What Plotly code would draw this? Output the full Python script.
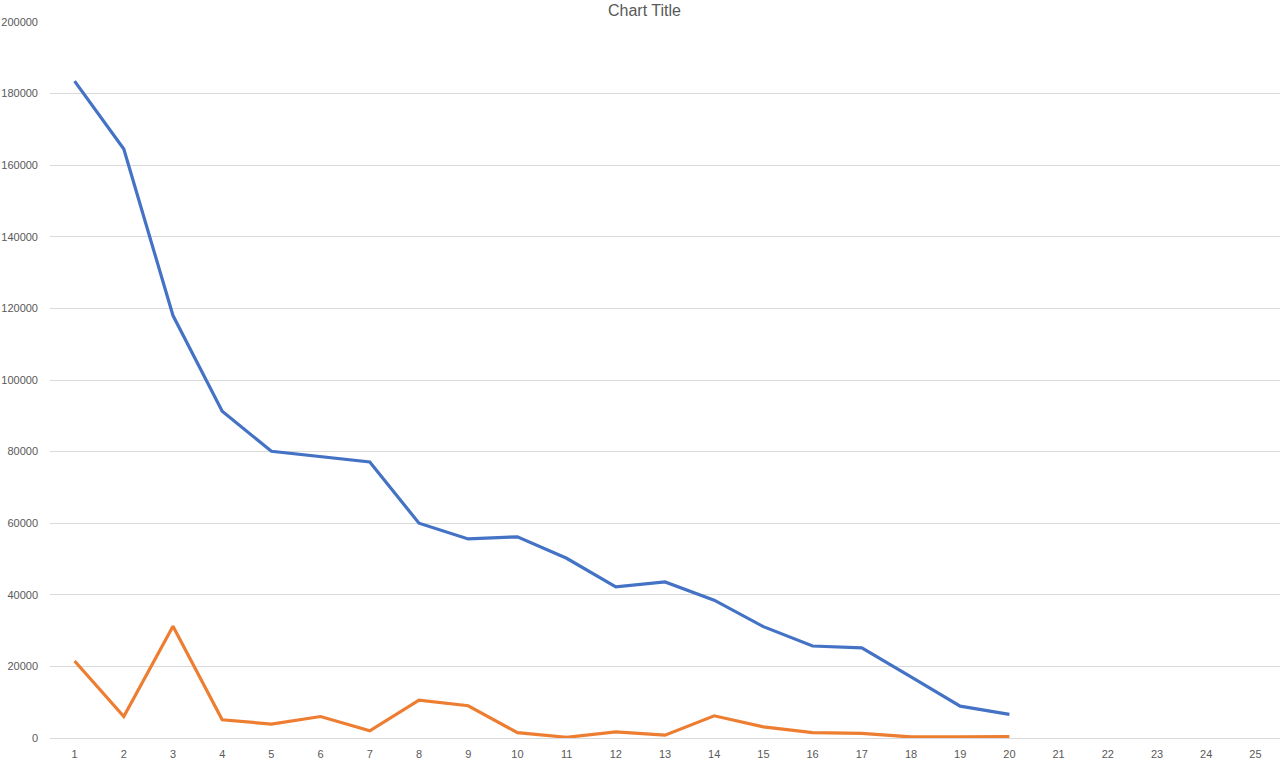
import plotly.graph_objects as go

# categories on the x axis (1..25), series only go up to 20
categories = [str(i) for i in range(1, 26)]
x_points = [str(i) for i in range(1, 21)]

series_blue = [183500, 164500, 118000, 91300, 80100, 78500, 77100, 60000, 55600, 56200,
               50200, 42200, 43600, 38500, 31100, 25700, 25200, 17100, 8900, 6600]
series_orange = [21500, 6000, 31200, 5100, 3900, 6000, 2000, 10600, 9000, 1500,
                 200, 1700, 800, 6200, 3100, 1500, 1300, 300, 300, 400]

y_ticks = [0, 20000, 40000, 60000, 80000, 100000, 120000, 140000, 160000, 180000, 200000]

fig = go.Figure()

fig.add_trace(go.Scatter(
    x=x_points, y=series_blue,
    mode="lines",
    line=dict(color="#4472C4", width=3.2),
    name="Series1",
))
fig.add_trace(go.Scatter(
    x=x_points, y=series_orange,
    mode="lines",
    line=dict(color="#ED7D31", width=3.2),
    name="Series2",
))

# title hugs the very top edge, just above the 200000 gridline
fig.add_annotation(
    text="Chart Title",
    xref="paper", yref="paper",
    x=0.4837, y=1,
    yanchor="middle",
    yshift=12,
    showarrow=False,
    font=dict(family="Liberation Sans, Arial, sans-serif", size=16, color="#595959"),
)

fig.update_layout(
    width=1280,
    height=782,
    autosize=False,
    showlegend=False,
    plot_bgcolor="white",
    paper_bgcolor="white",
    margin=dict(l=50, r=0, t=22, b=44),
    font=dict(family="Liberation Sans, Arial, sans-serif", size=11, color="#595959"),
    xaxis=dict(
        type="category",
        categoryorder="array",
        categoryarray=categories,
        range=[-0.5, 24.5],
        showgrid=False,
        showline=False,
        zeroline=False,
        ticks="",
        ticklabelstandoff=8,
    ),
    yaxis=dict(
        range=[0, 200000],
        tickvals=y_ticks,
        ticktext=[str(v) for v in y_ticks],
        showgrid=True,
        gridcolor="#D9D9D9",
        gridwidth=1,
        zeroline=True,
        zerolinecolor="#D9D9D9",
        zerolinewidth=1,
        showline=False,
        ticks="",
        ticklabelstandoff=11,
    ),
)

fig.write_html("out.html", config={"displayModeBar": False},
               post_script="document.body.style.margin='0';")
